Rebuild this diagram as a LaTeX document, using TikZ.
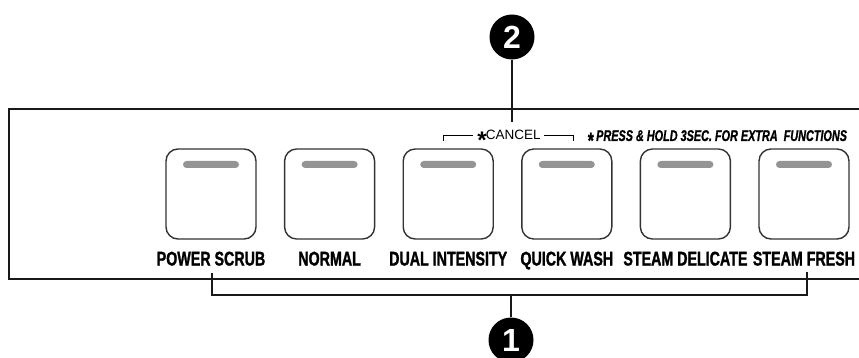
\documentclass[tikz,border=0pt]{standalone}
\usepackage{fontspec}
\setmainfont{Liberation Sans}
\newfontfamily\condfont[FakeStretch=0.72,FakeBold=1.3]{Liberation Sans}
\newfontfamily\presfont[FakeStretch=0.7,FakeBold=1.0]{Liberation Sans}
\newfontfamily\plainsans{Liberation Sans}
\begin{document}
\begin{tikzpicture}[x=1pt,y=-1pt,
  panel/.style={line width=2pt,black!90},
  btn/.style={draw=black!80,line width=1.4pt,rounded corners=12pt,minimum width=90pt,minimum height=90pt,inner sep=0pt},
  bar/.style={fill=black!42,rounded corners=3.5pt,minimum width=56pt,minimum height=7pt,inner sep=0pt},
  lbl/.style={font=\condfont\bfseries\fontsize{19.8}{20}\selectfont,inner sep=0pt,anchor=base},
  callout/.style={circle,fill=black,text=white,minimum size=45pt,inner sep=0pt,font=\plainsans\bfseries\fontsize{32}{32}\selectfont},
  lead/.style={line width=1.6pt,black!90}]
\useasboundingbox (0,0) rectangle (859,358);
% panel
\draw[panel] (862,109) -- (9,109) -- (9,279) -- (862,279);
% buttons
\foreach \n/\x/\t in {a/211/POWER SCRUB,b/329.6/NORMAL,c/448.2/DUAL INTENSITY,d/566.8/QUICK WASH,e/685.4/STEAM DELICATE,f/804/STEAM FRESH}{
  \node[btn] (btn\n) at (\x,194) {};
  \node[bar] (bar\n) at (\x,164.5) {};
  \node[lbl] (lbl\n) at (\x,265.5) {\t};
}
% cancel text
\node[inner sep=0pt,anchor=base,font=\plainsans\fontsize{13.5}{14}\selectfont] (cancel) at (509,140) {\raisebox{-8.5pt}{\fontsize{24}{24}\selectfont\bfseries*}\kern-0.8pt CANCEL};
\coordinate (cl1) at (443,141);
\coordinate (cl2) at (443,136);
\coordinate (cl3) at (473,136);
\coordinate (cr1) at (544,136);
\coordinate (cr2) at (573,136);
\coordinate (cr3) at (573,141);
\draw[line width=1pt] (cl1) -- (cl2) -- (cl3);
\draw[line width=1pt] (cr1) -- (cr2) -- (cr3);
% press & hold
\node[inner sep=0pt,anchor=base west,font=\presfont\bfseries\itshape\fontsize{15.5}{15.5}\selectfont] (press) at (587,141) {\raisebox{-7pt}{\fontsize{22}{22}\selectfont*} PRESS \& HOLD 3SEC. FOR EXTRA\ \ FUNCTIONS};
% callout 2
\node[callout] (c2) at (512,37) {2};
\coordinate (c2end) at (512,122);
\draw[lead] (c2) -- (c2end);
% callout 1
\node[callout] (c1) at (511,340) {1};
\coordinate (b1) at (212,273);
\coordinate (b2) at (212,295);
\coordinate (b3) at (807,295);
\coordinate (b4) at (807,272);
\coordinate (bm) at (511,295);
\draw[lead] (b1) -- (b2) -- (b3) -- (b4);
\draw[lead] (bm) -- (c1);
\end{tikzpicture}
\end{document}
